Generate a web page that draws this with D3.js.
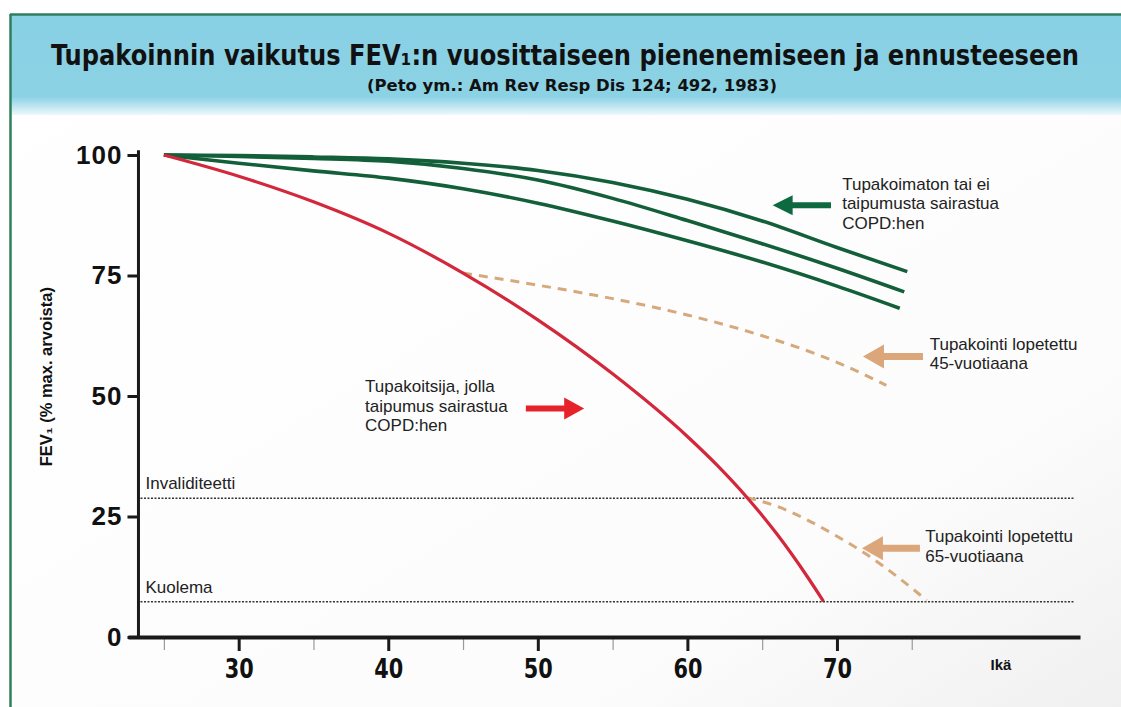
<!DOCTYPE html>
<html><head><meta charset="utf-8">
<script src="https://cdn.jsdelivr.net/npm/d3@7"></script>
<style>
html,body{margin:0;padding:0;background:#fff;}
svg{display:block;}
</style></head>
<body>
<svg id="chart" width="1121" height="707"></svg>
<script>
// ---------- DATA ----------
const titleText = "Tupakoinnin vaikutus FEV₁:n vuosittaiseen pienenemiseen ja ennusteeseen";
const subtitleText = "(Peto ym.: Am Rev Resp Dis 124; 492, 1983)";
const yAxisLabel = "FEV₁ (% max. arvoista)";
const xAxisLabel = "Ikä";

const xMajorTicks = [30, 40, 50, 60, 70];
const xMinorTicks = [25, 35, 45, 55, 65, 75];
const yTicks = [0, 25, 50, 75, 100];

// Non-smoker / not susceptible (three green curves)
const greenTopAge = [25, 30, 35, 40, 45, 50, 55, 60, 65, 70, 74.7];
const greenTopFev = [100, 99.9, 99.6, 99.2, 98.3, 96.8, 94.3, 90.8, 86.3, 80.8, 75.8];
const greenMidAge = [25, 30, 35, 40, 45, 50, 55, 60, 65, 70, 74.5];
const greenMidFev = [100, 99.7, 99.3, 98.7, 97.2, 94.8, 91.0, 86.4, 81.6, 76.5, 71.6];
const greenLowAge = [25, 30, 35, 40, 45, 50, 55, 60, 65, 70, 74.2];
const greenLowFev = [100, 98.3, 96.7, 95.2, 93.0, 90.0, 86.3, 82.2, 77.8, 72.8, 68.2];

// Susceptible smoker (red)
const smokerAge = [25, 30, 35, 40, 45, 50, 55, 60, 62, 64, 66, 68, 69.1];
const smokerFev = [100, 95.6, 90.3, 83.8, 75.5, 65.8, 54.6, 41.6, 35.6, 28.9, 21.3, 12.6, 7.4];

// Stopped smoking at 45 (dashed)
const quit45Age = [45, 50, 55, 60, 65, 70, 73.3];
const quit45Fev = [75.5, 73.0, 70.2, 66.8, 62.5, 57.0, 52.2];

// Stopped smoking at 65 (dashed)
const quit65Age = [64, 66, 68, 70, 72, 74, 76];
const quit65Fev = [28.9, 27.1, 24.3, 20.9, 17.1, 12.6, 7.6];

// Threshold lines
const thresholdNames = ["Invaliditeetti", "Kuolema"];
const thresholdFev = [28.8, 7.3];

// Annotation texts
const noteGreen = ["Tupakoimaton tai ei", "taipumusta sairastua", "COPD:hen"];
const noteRed = ["Tupakoitsija, jolla", "taipumus sairastua", "COPD:hen"];
const note45 = ["Tupakointi lopetettu", "45-vuotiaana"];
const note65 = ["Tupakointi lopetettu", "65-vuotiaana"];

// ---------- DRAW ----------
const svg = d3.select("#chart");
const W = 1121, H = 707;

const defs = svg.append("defs");
const hg = defs.append("linearGradient").attr("id","hdr").attr("x1",0).attr("y1",0).attr("x2",0).attr("y2",1);
hg.append("stop").attr("offset","0%").attr("stop-color","#88d0e4");
hg.append("stop").attr("offset","82%").attr("stop-color","#8cd2e5");
hg.append("stop").attr("offset","100%").attr("stop-color","#eef8fb");
const bg = defs.append("linearGradient").attr("id","bodybg").attr("x1",0).attr("y1",0).attr("x2",1).attr("y2",1);
bg.append("stop").attr("offset","0%").attr("stop-color","#ffffff");
bg.append("stop").attr("offset","75%").attr("stop-color","#fcfcfc");
bg.append("stop").attr("offset","100%").attr("stop-color","#f0f0f0");

// frame
svg.append("rect").attr("x",0).attr("y",0).attr("width",W).attr("height",H).attr("fill","#fff");
svg.append("rect").attr("x",11).attr("y",15).attr("width",W-11).attr("height",H-15).attr("fill","url(#bodybg)");
svg.append("rect").attr("x",11).attr("y",15).attr("width",W-11).attr("height",100).attr("fill","url(#hdr)");
svg.append("line").attr("x1",10).attr("x2",W).attr("y1",14.5).attr("y2",14.5).attr("stroke","#2f7f5c").attr("stroke-width",2.5);
svg.append("line").attr("x1",10.5).attr("x2",10.5).attr("y1",14).attr("y2",H).attr("stroke","#2f7f5c").attr("stroke-width",2.5);

// title
const condensed = "'Liberation Sans Narrow','Arial Narrow','DejaVu Sans Condensed','Roboto Condensed',Arial,sans-serif";
svg.append("text").attr("x",565).attr("y",65).attr("text-anchor","middle")
  .attr("font-family",condensed).attr("font-weight","bold").attr("font-size",28).attr("fill","#111")
  .attr("textLength",1028).attr("lengthAdjust","spacingAndGlyphs").text(titleText);
svg.append("text").attr("x",572).attr("y",91).attr("text-anchor","middle")
  .attr("font-family",condensed).attr("font-weight","bold").attr("font-size",16).attr("fill","#111")
  .attr("textLength",410).attr("lengthAdjust","spacingAndGlyphs").text(subtitleText);

// scales
const x = d3.scaleLinear().domain([22.6, 86.25]).range([128, 1080]);
const y = d3.scaleLinear().domain([0, 100]).range([637, 155]);
const yAxisX = x(23.3);

// threshold lines
thresholdFev.forEach((v,i)=>{
  svg.append("line").attr("x1",yAxisX+2).attr("x2",x(85.9)).attr("y1",y(v)).attr("y2",y(v))
    .attr("stroke","#333").attr("stroke-width",1.6).attr("stroke-dasharray","2,1.5");
  svg.append("text").attr("x",yAxisX+7).attr("y",y(v)-9)
    .attr("font-family","Arial, 'Liberation Sans', sans-serif").attr("font-size",17).attr("fill","#222")
    .text(thresholdNames[i]);
});

// axes
const fontBold = "Arial, 'Liberation Sans', Helvetica, sans-serif";
const xMinor = svg.append("g").attr("transform",`translate(0,${y(0)})`)
  .call(d3.axisBottom(x).tickValues(xMinorTicks).tickSize(13).tickFormat(""));
xMinor.select(".domain").remove();
xMinor.selectAll(".tick line").attr("stroke","#9a9a9a").attr("stroke-width",1.2);

const xAx = svg.append("g").attr("transform",`translate(0,${y(0)})`)
  .call(d3.axisBottom(x).tickValues(xMajorTicks).tickSize(14).tickSizeOuter(0).tickPadding(8));
xAx.select(".domain").attr("stroke","#1a1a1a").attr("stroke-width",4);
xAx.selectAll(".tick line").attr("stroke","#1a1a1a").attr("stroke-width",3);
xAx.selectAll(".tick text").attr("font-family",condensed).attr("font-weight","bold")
  .attr("font-size",27).attr("fill","#111").attr("textLength",29).attr("lengthAdjust","spacingAndGlyphs");

const yAx = svg.append("g").attr("transform",`translate(${yAxisX},0)`)
  .call(d3.axisLeft(y).tickValues(yTicks).tickSize(11).tickSizeOuter(0).tickPadding(5));
yAx.select(".domain").attr("stroke","#1a1a1a").attr("stroke-width",3).attr("d",`M0,${y(0)}V${y(101)}`);
yAx.selectAll(".tick line").attr("stroke","#1a1a1a").attr("stroke-width",3);
yAx.selectAll(".tick text").attr("font-family",fontBold).attr("font-weight","bold")
  .attr("font-size",26).attr("fill","#111").attr("letter-spacing",1);

svg.append("text").attr("x",1001).attr("y",y(0)+33).attr("text-anchor","middle")
  .attr("font-family",fontBold).attr("font-weight","bold").attr("font-size",15).attr("fill","#111").text(xAxisLabel);

svg.append("text").attr("transform",`translate(52,${y(54)}) rotate(-90)`).attr("text-anchor","middle")
  .attr("font-family",fontBold).attr("font-weight","bold").attr("font-size",16.5).attr("fill","#111")
  .text(yAxisLabel);

// curves
const line = d3.line().x(d=>x(d[0])).y(d=>y(d[1])).curve(d3.curveMonotoneX);
const zip = (a,b)=>a.map((v,i)=>[v,b[i]]);

svg.append("path").datum(zip(quit45Age,quit45Fev)).attr("d",line).attr("fill","none")
  .attr("stroke","#d6a97d").attr("stroke-width",3).attr("stroke-dasharray","9,7");
svg.append("path").datum(zip(quit65Age,quit65Fev)).attr("d",line).attr("fill","none")
  .attr("stroke","#d6a97d").attr("stroke-width",3).attr("stroke-dasharray","9,7");
[[greenLowAge,greenLowFev],[greenMidAge,greenMidFev],[greenTopAge,greenTopFev]].forEach(([a,f])=>{
  svg.append("path").datum(zip(a,f)).attr("d",line).attr("fill","none")
    .attr("stroke","#135f39").attr("stroke-width",3.6).attr("stroke-linecap","butt");
});
svg.append("path").datum(zip(smokerAge,smokerFev)).attr("d",line).attr("fill","none")
  .attr("stroke","#d3273b").attr("stroke-width",3.2);

// arrows (in data coordinates)
function arrow(tailAge, tipAge, fev, color, shaft, headLen, headHalf){
  const x1 = x(tailAge), x2 = x(tipAge), yy = y(fev);
  const dir = Math.sign(x2 - x1);
  const xb = x2 - dir*headLen;
  const p = [[x1,yy-shaft/2],[xb,yy-shaft/2],[xb,yy-headHalf],[x2,yy],[xb,yy+headHalf],[xb,yy+shaft/2],[x1,yy+shaft/2]];
  svg.append("path").attr("d","M"+p.map(q=>q.join(",")).join("L")+"Z").attr("fill",color);
}
arrow(69.6, 65.7, 89.6, "#0d6a40", 6, 20, 10);
arrow(75.75, 71.74, 58.2, "#dca67b", 7, 21, 12);
arrow(75.55, 71.67, 18.4, "#dca67b", 7, 21, 12);
arrow(49.2, 53.1, 47.4, "#e6222b", 6, 20, 11);

function note(lines, age, fev){
  const t = svg.append("text").attr("x",x(age)).attr("y",y(fev))
    .attr("font-family","Arial, 'Liberation Sans', Helvetica, sans-serif").attr("font-size",17).attr("fill","#222");
  lines.forEach((s,i)=>t.append("tspan").attr("x",x(age)).attr("dy",i===0?0:19.5).text(s));
}
note(noteGreen, 70.35, 92.8);
note(note45, 76.2, 59.6);
note(note65, 75.9, 19.7);
note(noteRed, 38.45, 50.8);
</script>
</body></html>
